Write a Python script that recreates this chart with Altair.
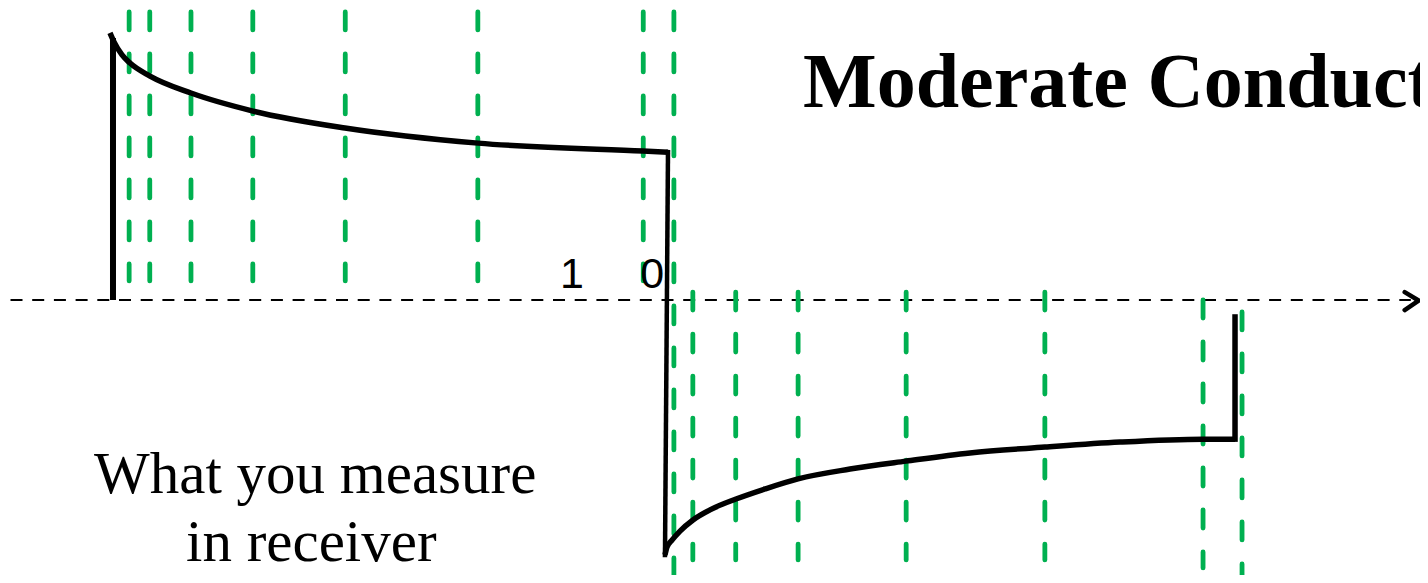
import altair as alt
import pandas as pd

# ---- data (time units, amplitude units) ----
# leading edge of the transmitted pulse as seen at receiver
edge_t = [0.0, 0.0]
edge_v = [0.0, 9.89]

# decay during the on-time
upper_t = [-0.054, 0.018, 0.162, 0.305, 0.664, 1.40, 2.513, 4.165, 6.553, 9.515, 9.964]
upper_v = [10.08, 9.74, 9.25, 8.94, 8.45, 7.81, 7.13, 6.49, 5.92, 5.62, 5.58]

# turn-off drop
drop_t = [9.964, 9.91]
drop_v = [5.58, -9.62]

# decay of the negative half
lower_t = [9.91, 9.946, 10.036, 10.18, 10.413, 10.718, 11.185, 11.706, 12.298, 13.232,
           14.237, 15.386, 16.732, 18.079, 19.569, 20.144]
lower_v = [-9.62, -9.32, -9.06, -8.72, -8.30, -7.92, -7.51, -7.13, -6.75, -6.38,
           -6.08, -5.77, -5.55, -5.36, -5.25, -5.25]

# final step
step_t = [20.144, 20.144]
step_v = [-5.25, -0.64]

# sampling gates (green dashed lines): time, top, bottom
gate_t = [0.29, 0.66, 1.40, 2.51, 4.17, 6.55, 9.52, 10.07,
          10.41, 11.18, 12.30, 14.24, 16.73, 19.57, 20.27]
gate_top = [10.87, 10.87, 10.87, 10.87, 10.87, 10.87, 10.87, 10.87,
            0.30, 0.30, 0.30, 0.30, 0.30, 0.0, -0.45]
gate_bottom = [0.72, 0.72, 0.72, 0.72, 0.72, 0.72, 0.72, -10.6,
               -9.81, -9.81, -9.81, -9.81, -9.81, -10.11, -10.6]

# time axis
axis_t = [-1.84, 23.30]
arrow_t = [23.19, 23.44, 23.19]
arrow_v = [0.30, -0.02, -0.38]

# labels
bit_labels = ["1", "0"]
bit_t = [8.24, 9.68]
bit_v = [0.45, 0.45]

note_lines = ["What you measure", "in receiver"]
note_t = [3.63, 3.56]
note_v = [-7.28, -9.85]

title_text = ["Moderate Conduct"]
title_t = [12.39]
title_v = [7.28]

# ---- scales ----
xs = alt.Scale(domain=[-1.885, 23.465], nice=False, zero=False)
ys = alt.Scale(domain=[-10.377, 11.019], nice=False, zero=False)


def X(f="t"):
    return alt.X(f"{f}:Q", scale=xs, axis=None)


def Y(f="v"):
    return alt.Y(f"{f}:Q", scale=ys, axis=None)


def frame(t, v):
    return pd.DataFrame({"t": t, "v": v, "i": range(len(t))})


gate_df = pd.DataFrame({"t": gate_t, "top": gate_top, "bottom": gate_bottom})
axis_df = pd.DataFrame({"t": [axis_t[0]], "t2": [axis_t[1]], "v": [0.0]})
bit_df = pd.DataFrame({"t": bit_t, "v": bit_v, "label": bit_labels})
note_df = pd.DataFrame({"t": note_t, "v": note_v, "label": note_lines})
title_df = pd.DataFrame({"t": title_t, "v": title_v, "label": title_text})

axis_line = alt.Chart(axis_df).mark_rule(
    color="black", strokeWidth=2, strokeDash=[12, 9.7], strokeCap="butt"
).encode(x=X(), x2="t2:Q", y=Y())

arrow = alt.Chart(frame(arrow_t, arrow_v)).mark_line(
    color="black", strokeWidth=4.5, strokeCap="round", strokeJoin="round"
).encode(x=X(), y=Y(), order="i:Q")

gates = alt.Chart(gate_df).mark_rule(
    color="#00B050", strokeWidth=4.8, strokeDash=[18, 24], strokeCap="round"
).encode(x=X(), y=Y("top"), y2="bottom:Q")

edge = alt.Chart(frame(edge_t, edge_v)).mark_line(
    color="black", strokeWidth=6, strokeCap="butt"
).encode(x=X(), y=Y(), order="i:Q")

upper = alt.Chart(frame(upper_t, upper_v)).mark_line(
    color="black", strokeWidth=5.5, strokeCap="butt", interpolate="monotone"
).encode(x=X(), y=Y(), order="i:Q")

drop = alt.Chart(frame(drop_t, drop_v)).mark_line(
    color="black", strokeWidth=4.5, strokeCap="square"
).encode(x=X(), y=Y(), order="i:Q")

lower = alt.Chart(frame(lower_t, lower_v)).mark_line(
    color="black", strokeWidth=5.5, strokeCap="butt", interpolate="monotone"
).encode(x=X(), y=Y(), order="i:Q")

step = alt.Chart(frame(step_t, step_v)).mark_line(
    color="black", strokeWidth=5.5, strokeCap="square"
).encode(x=X(), y=Y(), order="i:Q")

bits = alt.Chart(bit_df).mark_text(
    font="Liberation Sans", fontSize=43, align="center", baseline="alphabetic", color="black"
).encode(x=X(), y=Y(), text="label:N")

note = alt.Chart(note_df).mark_text(
    font="Liberation Serif", fontSize=59, align="center", baseline="alphabetic", color="black"
).encode(x=X(), y=Y(), text="label:N")

title = alt.Chart(title_df).mark_text(
    font="Liberation Serif", fontSize=78, fontWeight="bold", align="left",
    baseline="alphabetic", color="black"
).encode(x=X(), y=Y(), text="label:N")

chart = alt.layer(axis_line, arrow, gates, edge, upper, drop, lower, step,
                  bits, note, title).properties(
    width=1412, height=567, padding=0, autosize="none", background="white"
).configure_view(strokeWidth=0)

chart.save("out.html", embed_options={"renderer": "svg", "actions": False})
